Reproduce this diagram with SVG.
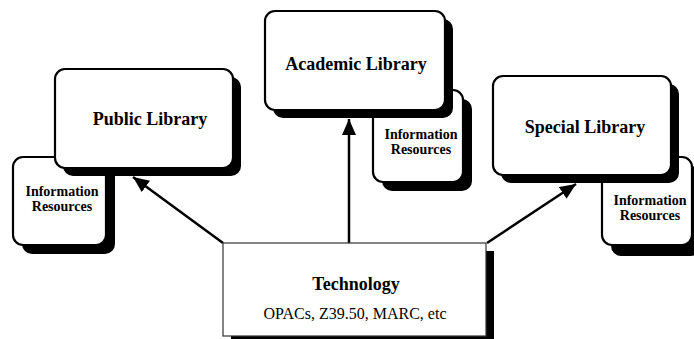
<svg xmlns="http://www.w3.org/2000/svg" width="694" height="339" viewBox="0 0 694 339">
<defs>
<style>
.box{fill:#fff;stroke:#000;stroke-width:2.2}
.sh{fill:#000}
.t{font-family:"Liberation Serif","Times New Roman",serif;font-weight:bold;text-anchor:middle;fill:#000}
.big{font-size:18px}
.sm{font-size:14px}
.reg{font-family:"Liberation Serif","Times New Roman",serif;font-size:16px;text-anchor:middle;fill:#000}
.arr{stroke:#000;stroke-width:2.5;fill:none;marker-end:url(#ah)}
</style>
<marker id="ah" markerUnits="userSpaceOnUse" markerWidth="18" markerHeight="14" refX="16" refY="7" orient="auto">
<path d="M0,0 L16,7 L0,14 Z" fill="#000"/>
</marker>
</defs>
<rect width="694" height="339" fill="#fff"/>

<g id="info-public">
<rect class="sh" x="22" y="166" width="93" height="88" rx="10"/>
<rect class="box" x="13" y="157" width="93" height="88" rx="10"/>
<text class="t sm" x="62" y="196">Information</text>
<text class="t sm" x="62" y="211">Resources</text>
</g>
<g id="public-library">
<rect class="sh" x="63" y="77" width="178" height="99" rx="10"/>
<rect class="box" x="55" y="69" width="178" height="99" rx="10"/>
<text class="t big" x="150" y="125">Public Library</text>
</g>

<g id="info-academic">
<rect class="sh" x="382" y="99" width="90" height="92" rx="10"/>
<rect class="box" x="373" y="90" width="90" height="92" rx="10"/>
<text class="t sm" x="421" y="139">Information</text>
<text class="t sm" x="421" y="154">Resources</text>
</g>
<g id="academic-library">
<rect class="sh" x="273" y="19" width="180" height="99" rx="10"/>
<rect class="box" x="265" y="11" width="180" height="99" rx="10"/>
<text class="t big" x="356" y="70">Academic Library</text>
</g>

<g id="info-special">
<rect class="sh" x="611" y="166" width="90" height="90" rx="10"/>
<rect class="box" x="602" y="157" width="90" height="88" rx="10"/>
<text class="t sm" x="650" y="205">Information</text>
<text class="t sm" x="650" y="220">Resources</text>
</g>
<g id="special-library">
<rect class="sh" x="501" y="84" width="178" height="99" rx="10"/>
<rect class="box" x="493" y="76" width="178" height="99" rx="10"/>
<text class="t big" x="585" y="133">Special Library</text>
</g>

<g id="connectors">
<line class="arr" x1="223" y1="243" x2="133" y2="177"/>
<line class="arr" x1="349" y1="243" x2="349" y2="119"/>
<line class="arr" x1="487" y1="243" x2="576" y2="184"/>
</g>

<g id="technology">
<rect class="sh" x="231" y="251" width="263" height="93"/>
<rect x="223" y="243" width="263" height="93" fill="#fff" stroke="#333" stroke-width="1.2"/>
<text class="t big" x="356" y="290">Technology</text>
<text class="reg" x="355" y="319">OPACs, Z39.50, MARC, etc</text>
</g>
</svg>
